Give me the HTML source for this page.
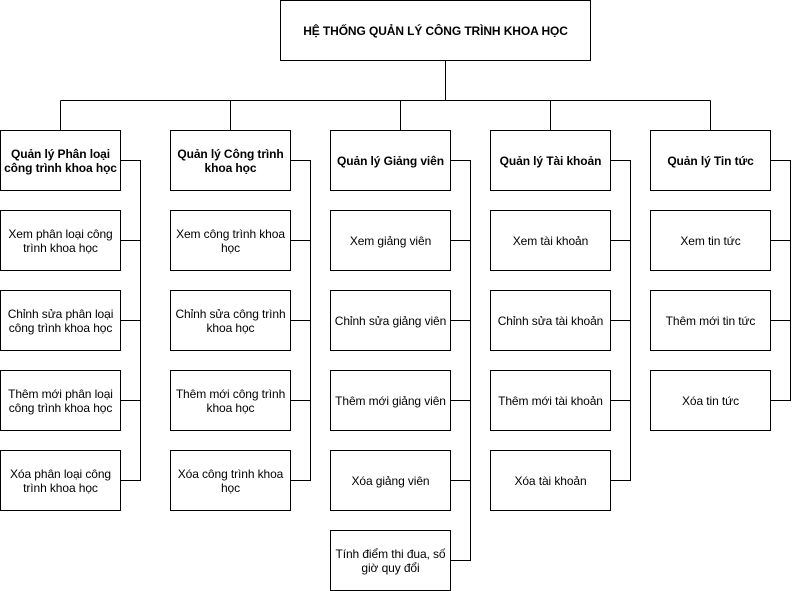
<!DOCTYPE html>
<html><head><meta charset="utf-8"><style>
body{margin:0;width:811px;height:591px;background:#fff;position:relative;overflow:hidden;font-family:"Liberation Sans",Arial,sans-serif;}
.b{position:absolute;box-sizing:border-box;border:1px solid #000;background:#fff;display:flex;align-items:center;justify-content:center;text-align:center;font-size:12px;line-height:14px;color:#000;padding:0;white-space:nowrap;letter-spacing:-0.1px;}
.h{font-weight:bold;}
svg{position:absolute;left:0;top:0;}
</style></head><body>
<svg width="811" height="591"><g stroke="#000" stroke-width="1" fill="none" shape-rendering="crispEdges">
<path d="M445.5 61V100.5M60.5 100.5H710.5M60.5 100.5V130M230.5 100.5V130M400.5 100.5V130M550.5 100.5V130M710.5 100.5V130"/>
<path d="M120 160.5H140.5V480.5H120M120 240.5H140M120 320.5H140M120 400.5H140"/>
<path d="M290 160.5H310.5V480.5H290M290 240.5H310M290 320.5H310M290 400.5H310"/>
<path d="M450 160.5H470.5V560.5H450M450 240.5H470M450 320.5H470M450 400.5H470M450 480.5H470"/>
<path d="M610 160.5H630.5V480.5H610M610 240.5H630M610 320.5H630M610 400.5H630"/>
<path d="M770 160.5H790.5V400.5H770M770 240.5H790M770 320.5H790"/>
</g></svg>
<div class="b h" style="left:280px;top:0;width:311px;height:61px">HỆ THỐNG QUẢN LÝ CÔNG TRÌNH KHOA HỌC</div>

<div class="b h" style="left:0;top:130px;width:121px;height:61px">Quản lý Phân loại<br>công trình khoa học</div>
<div class="b" style="left:0;top:210px;width:121px;height:61px">Xem phân loại công<br>trình khoa học</div>
<div class="b" style="left:0;top:290px;width:121px;height:61px">Chỉnh sửa phân loại<br>công trình khoa học</div>
<div class="b" style="left:0;top:370px;width:121px;height:61px">Thêm mới phân loại<br>công trình khoa học</div>
<div class="b" style="left:0;top:450px;width:121px;height:61px">Xóa phân loại công<br>trình khoa học</div>

<div class="b h" style="left:170px;top:130px;width:121px;height:61px">Quản lý Công trình<br>khoa học</div>
<div class="b" style="left:170px;top:210px;width:121px;height:61px">Xem công trình khoa<br>học</div>
<div class="b" style="left:170px;top:290px;width:121px;height:61px">Chỉnh sửa công trình<br>khoa học</div>
<div class="b" style="left:170px;top:370px;width:121px;height:61px">Thêm mới công trình<br>khoa học</div>
<div class="b" style="left:170px;top:450px;width:121px;height:61px">Xóa công trình khoa<br>học</div>

<div class="b h" style="left:330px;top:130px;width:121px;height:61px">Quản lý Giảng viên</div>
<div class="b" style="left:330px;top:210px;width:121px;height:61px">Xem giảng viên</div>
<div class="b" style="left:330px;top:290px;width:121px;height:61px">Chỉnh sửa giảng viên</div>
<div class="b" style="left:330px;top:370px;width:121px;height:61px">Thêm mới giảng viên</div>
<div class="b" style="left:330px;top:450px;width:121px;height:61px">Xóa giảng viên</div>
<div class="b" style="left:330px;top:530px;width:121px;height:61px">Tính điểm thi đua, số<br>giờ quy đổi</div>

<div class="b h" style="left:490px;top:130px;width:121px;height:61px">Quản lý Tài khoản</div>
<div class="b" style="left:490px;top:210px;width:121px;height:61px">Xem tài khoản</div>
<div class="b" style="left:490px;top:290px;width:121px;height:61px">Chỉnh sửa tài khoản</div>
<div class="b" style="left:490px;top:370px;width:121px;height:61px">Thêm mới tài khoản</div>
<div class="b" style="left:490px;top:450px;width:121px;height:61px">Xóa tài khoản</div>

<div class="b h" style="left:650px;top:130px;width:121px;height:61px">Quản lý Tin tức</div>
<div class="b" style="left:650px;top:210px;width:121px;height:61px">Xem tin tức</div>
<div class="b" style="left:650px;top:290px;width:121px;height:61px">Thêm mới tin tức</div>
<div class="b" style="left:650px;top:370px;width:121px;height:61px">Xóa tin tức</div>
</body></html>
